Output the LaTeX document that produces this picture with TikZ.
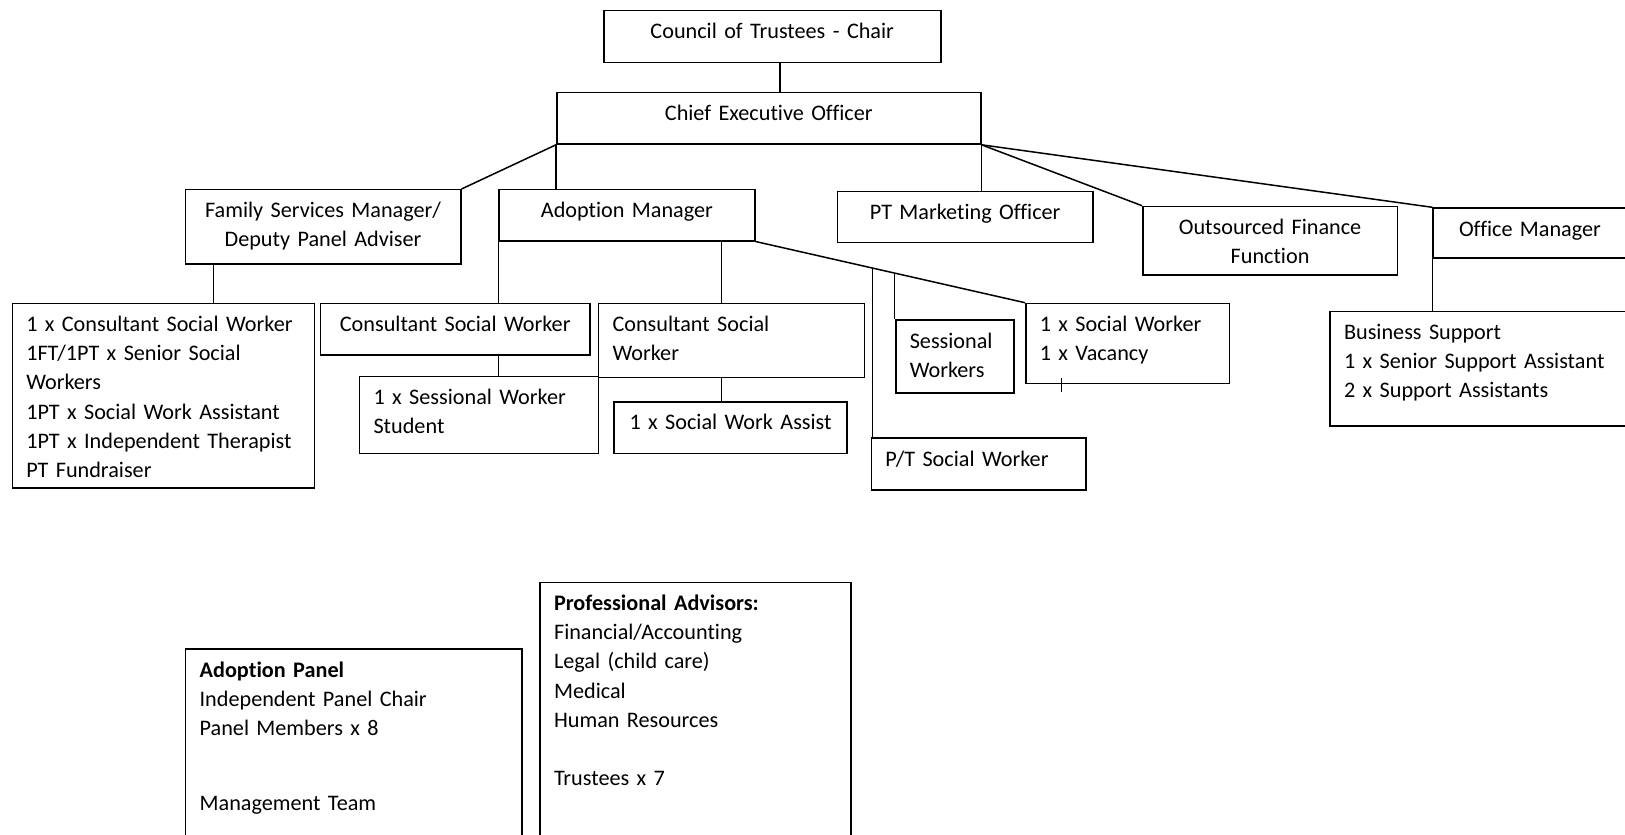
\documentclass[tikz,border=0pt]{standalone}
\usepackage{fontspec}
\setmainfont{Carlito}[Ligatures=NoCommon]
\usepackage{tikz}
\tikzset{
    org-box/.style = {draw=black, fill=white, line width=0.75pt, rectangle, anchor=north west, inner xsep=7pt, inner ysep=4pt, text height=10pt, align=center},
    org-box-left/.style = {org-box, align=left},
    org-line/.style = {draw=black, line width=0.75pt},
}

\begin{document}
\begin{tikzpicture}[x=0.5pt, y=-0.5pt, font=\fontsize{11.1pt}{14.6pt}\selectfont]
\useasboundingbox (0,0) rectangle (1625,834);

% top of the chart
\node [org-box, text width=154.5pt, text depth=7.85pt] (council) at (603,10) {Council of Trustees - Chair};
\node [org-box, text width=198pt, text depth=7.65pt] (ceo) at (556,92) {Chief Executive Officer};

% managers
\node [org-box, text width=123.7pt, text depth=19.15pt] (family) at (184.6,189) {Family Services Manager/\\Deputy Panel Adviser};
\node [org-box, text width=113.8pt, text depth=7.5pt] (adoption) at (498.4,189) {Adoption Manager};
\node [org-box, text width=113.6pt, text depth=7.5pt] (marketing) at (836.8,190.7) {PT Marketing Officer};
\node [org-box, text width=113.3pt, text depth=16.15pt] (finance) at (1142,205.7) {Outsourced Finance\\Function};
\node [org-box, text width=82.8pt, text depth=7pt] (office) at (1432.4,207.3) {Office Manager};

% staff
\node [org-box-left, text width=137.15pt, text depth=74.3pt] (familylist) at (11.5,302.7) {1 x Consultant Social Worker\\1FT/1PT x Senior Social\\Workers\\1PT x Social Work Assistant\\1PT x Independent Therapist\\PT Fundraiser};
\node [org-box, text width=120.9pt, text depth=7.65pt] (csw1) at (319.6,302.7) {Consultant Social Worker};
\node [org-box-left, text width=118.95pt, text depth=19pt] (csw2) at (597.8,302.7) {Consultant Social\\Worker};
\node [org-box-left, text width=105.5pt, text depth=20.5pt] (student) at (358.8,375.7) {1 x Sessional Worker\\Student};
\node [org-box, text width=102.6pt, text depth=7.85pt] (assist) at (613.2,401) {1 x Social Work Assist};
\node [org-box-left, text width=45.15pt, text depth=18.35pt] (sessional) at (895,319.3) {Sessional\\Workers};
\node [org-box-left, text width=87.85pt, text depth=22pt] (socialworker) at (1025,302.7) {1 x Social Worker\\1 x Vacancy};
\node [org-box-left, text width=93.15pt, text depth=8pt] (ptsw) at (870.7,437.3) {P/T Social Worker};
\node [org-box-left, text width=134.85pt, text depth=39.15pt] (support) at (1329.3,310.7) {Business Support\\1 x Senior Support Assistant\\2 x Support Assistants};

% panels
\node [org-box-left, text width=154.05pt, text depth=82.85pt] (panel) at (184.9,648.3) {\textbf{Adoption Panel}\\Independent Panel Chair\\Panel Members x 8\\[22.7pt]Management Team};
\node [org-box-left, text width=141.45pt, text depth=116.15pt] (advisors) at (539.3,581.7) {\textbf{Professional Advisors:}\\Financial/Accounting\\Legal (child care)\\Medical\\Human Resources\\[14.6pt]Trustees x 7};

% connectors
\draw [org-line] ([xshift=3.9pt]council.south) -- ([xshift=3.9pt]council.south |- ceo.north);
\draw [org-line] (ceo.south west) -- (family.north east);
\draw [org-line] (ceo.south west) -- (ceo.south west |- adoption.north);
\draw [org-line] (ceo.south east) -- (ceo.south east |- marketing.north);
\draw [org-line] (ceo.south east) -- (finance.north west);
\draw [org-line] (ceo.south east) -- (office.north west);
\draw [org-line] ([xshift=14.4pt]family.south west) -- ([xshift=14.4pt]family.south west |- familylist.north);
\draw [org-line] (adoption.south west) -- (adoption.south west |- csw1.north);
\draw [org-line] ([xshift=61.95pt]csw2.north west) -- ([xshift=61.95pt]csw2.north west |- adoption.south);
\draw [org-line] (adoption.south east) -- (socialworker.north west) coordinate[pos=0.435] (drop-ptsw) coordinate[pos=0.515] (drop-sessional);
\draw [org-line] (drop-ptsw) -- (drop-ptsw |- ptsw.north);
\draw [org-line] (drop-sessional) -- (drop-sessional |- sessional.north);
\draw [org-line] ([xshift=89.4pt]csw1.south west) -- ([xshift=89.4pt]csw1.south west |- student.north);
\draw [org-line] ([xshift=61.95pt]csw2.south west) -- ([xshift=61.95pt]csw2.south west |- assist.north);
\draw [org-line] (office.south west) -- (office.south west |- support.north);
\draw [org-line] ([xshift=18.35pt,yshift=3pt]socialworker.south west) -- ++(0pt,-7pt);
\end{tikzpicture}
\end{document}
